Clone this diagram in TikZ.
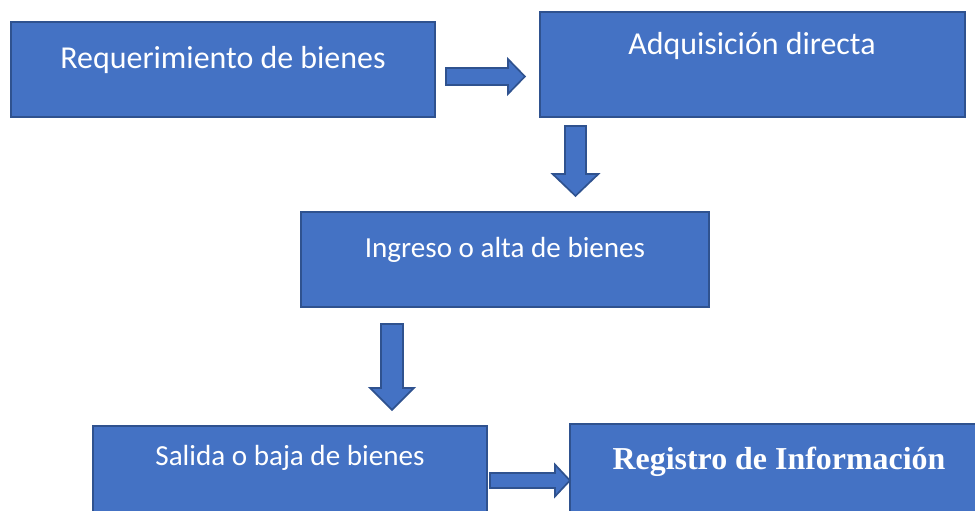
\documentclass[tikz,border=0pt]{standalone}
\usepackage{fontspec}
\setmainfont{Carlito}
\newfontfamily\regfont{Liberation Serif}
\usetikzlibrary{calc}

\definecolor{boxblue}{HTML}{4472C4}
\definecolor{edgeblue}{HTML}{2F528F}
\newcommand{\pw}{0.025cm}

\tikzset{
  stepbox/.style={draw=edgeblue, fill=boxblue, line width=1.3pt, inner sep=0pt},
  steptext/.style={text=white, inner sep=0pt, font=\fontsize{22.7}{27}\selectfont},
  smalltext/.style={steptext, font=\fontsize{20.7}{25}\selectfont},
  blk/.style={draw=edgeblue, fill=boxblue, line width=1.2pt, line join=miter},
  % block arrow: length / shaft width / head width / head length
  pics/blockarrow/.style args={#1/#2/#3/#4}{code={
    \draw[blk] (0,-#2/2) -- (#1-#4,-#2/2) -- (#1-#4,-#3/2) -- (#1,0)
      -- (#1-#4,#3/2) -- (#1-#4,#2/2) -- (0,#2/2) -- cycle;
  }}
}

\begin{document}
\begin{tikzpicture}[x=\pw, y=-\pw]

    \useasboundingbox (0,0) rectangle (975,511);
    \clip (0,0) rectangle (975,511);

    % Draw Boxes
    \node[stepbox, minimum width=424*\pw, minimum height=95*\pw]  (req) at (223,69.5)  {};
    \node[stepbox, minimum width=425*\pw, minimum height=105*\pw] (adq) at (752.5,64.5) {};
    \node[stepbox, minimum width=408*\pw, minimum height=95*\pw]  (ing) at (505,259.5)  {};
    \node[stepbox, minimum width=394*\pw, minimum height=104*\pw] (sal) at (290,478)    {};
    \node[stepbox, minimum width=420*\pw, minimum height=106*\pw] (reg) at (780,477)    {};

    % Draw Texts
    \node[steptext]  (reqtext) at (223,60)  {Requerimiento de bienes};
    \node[steptext]  (adqtext) at (752,46)  {Adquisición directa};
    \node[smalltext] (ingtext) at (505,250) {Ingreso o alta de bienes};
    \node[smalltext] (saltext) at (290,458) {Salida o baja de bienes};
    \node[steptext, font=\regfont\bfseries\fontsize{22.7}{27}\selectfont] (regtext) at (779,462) {Registro de Información};

    % Draw Block Arrows
    \pic at ($(req.east)+(10,7)$)              {blockarrow=79/17/35/17};
    \pic[rotate=-90] at ($(adq.south)+(-177,8)$) {blockarrow=70/21/46/22};
    \pic[rotate=-90] at ($(ing.south)+(-113,16)$) {blockarrow=86/22/44/22};
    \pic at ($(sal.east)+(2,2.5)$)             {blockarrow=80/15/32/15};
\end{tikzpicture}
\end{document}
